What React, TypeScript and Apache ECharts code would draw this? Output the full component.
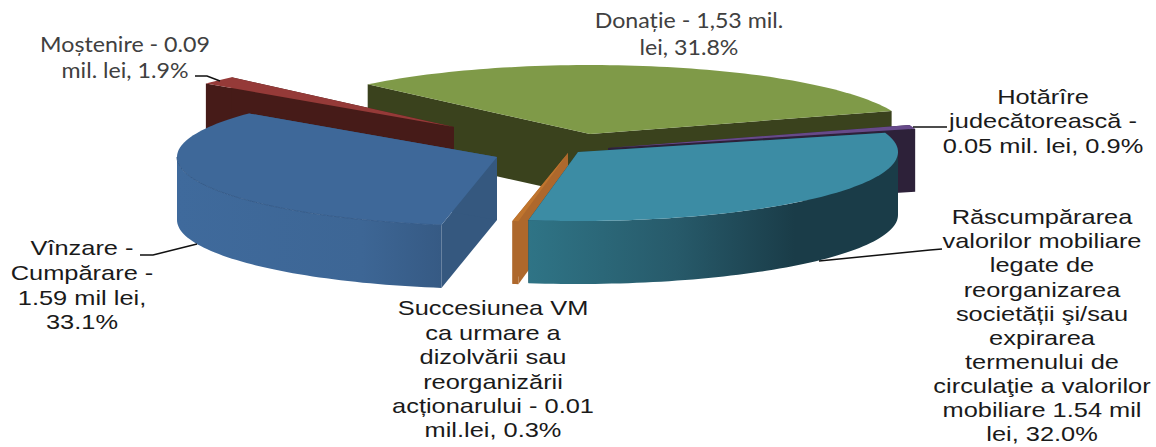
import React, { useEffect, useRef } from "react";
import * as echarts from "echarts";

const categories = [
  "Donație",
  "Hotărîre judecătorească",
  "Răscumpărarea valorilor mobiliare",
  "Succesiunea VM",
  "Vînzare - Cumpărare",
  "Moștenire",
];
const shares = [31.8, 0.9, 32.0, 0.3, 33.1, 1.9];

const START_ANGLE = 226;
const RX = 320;
const RY = 69;
const DEPTH = 63;
const apexX = [590, 608, 578, 568, 497, 454];
const apexY = [134, 148, 152, 153, 157, 127];
const drawOrder = [0, 5, 1, 4, 3, 2];

const topColors = ["#7f9a48", "#674a8a", "#3c8ca4", "#c0752e", "#3e6899", "#953a38"];
const faceColors = ["#3a421d", "#2d2139", "#1a3c48", "#ae682c", "#35587f", "#461b18"];
const seamColors = ["", "", "", "", "#365c8a", ""];
const wallStops: [number, string][][] = [
  [[0, "#3a421d"], [1, "#3a421d"]],
  [[0, "#2d2139"], [1, "#2d2139"]],
  [[0, "#2f7486"], [0.4, "#275a6a"], [0.72, "#1a3c48"], [1, "#1a3c48"]],
  [[0, "#ae682c"], [1, "#ae682c"]],
  [[0, "#3f6a9c"], [0.7, "#3d6695"], [1, "#365a84"]],
  [[0, "#461b18"], [1, "#461b18"]],
];

const labelTexts = [
  "Donație - 1,53 mil.\nlei, 31.8%",
  "Moștenire - 0.09\nmil. lei, 1.9%",
  "Hotărîre\njudecătorească -\n0.05 mil. lei, 0.9%",
  "Răscumpărarea\nvalorilor mobiliare\nlegate de\nreorganizarea\nsocietății şi/sau\nexpirarea\ntermenului de\ncirculaţie a valorilor\nmobiliare 1.54 mil\nlei, 32.0%",
  "Succesiunea VM\nca urmare a\ndizolvării sau\nreorganizării\nacționarului - 0.01\nmil.lei, 0.3%",
  "Vînzare -\nCumpărare -\n1.59 mil lei,\n33.1%",
];
const labelX = [689, 125, 1043, 1042, 493, 82];
const labelY = [6, 31, 85, 205, 296, 236];
const labelLineHeight = [27, 26, 24.2, 24.1, 24.4, 24.6];
const labelFont = ["Lato", "Lato", "Liberation Sans", "Liberation Sans", "Liberation Sans", "Liberation Sans"];
const labelSize = [21, 21, 21, 21, 21, 21];
const labelScale = [1.105, 1.105, 1.21, 1.21, 1.21, 1.21];
const labelColor = ["#404040", "#404040", "#1a1a1a", "#1a1a1a", "#1a1a1a", "#1a1a1a"];

const leaderLines: number[][][] = [
  [[195, 76], [207, 76], [220, 81]],
  [[913, 127], [947, 127]],
  [[819, 261], [930, 250], [942, 249]],
  [[140, 255], [153, 255], [197, 244]],
];

const rim = (cx: number, cy: number, deg: number, dy = 0): number[] => {
  const t = (deg * Math.PI) / 180;
  return [cx + RX * Math.cos(t), cy + RY * Math.sin(t) + dy];
};

const arcPoints = (cx: number, cy: number, a: number, b: number, dy = 0) => {
  const n = Math.max(2, Math.ceil((b - a) / 1.5));
  const pts: number[][] = [];
  for (let i = 0; i <= n; i++) pts.push(rim(cx, cy, a + ((b - a) * i) / n, dy));
  return pts;
};

const renderSlice = (params: any, api: any) => {
  const i = params.dataIndex;
  const total = shares.reduce((s, v) => s + v, 0);
  const before = shares.slice(0, i).reduce((s, v) => s + v, 0);
  const a = START_ANGLE + (before / total) * 360;
  const b = a + (api.value(0) / total) * 360;
  const cx = apexX[i];
  const cy = apexY[i];
  const z = drawOrder.indexOf(i) * 10;
  const children: any[] = [];

  [a, b].forEach((deg) => {
    const r = rim(cx, cy, deg);
    children.push({
      type: "polygon",
      z2: z,
      shape: { points: [[cx, cy], r, [r[0], r[1] + DEPTH], [cx, cy + DEPTH]] },
      style: { fill: faceColors[i] },
    });
  });

  [[0, 180], [360, 540]].forEach(([lo, hi]) => {
    const p = Math.max(a, lo);
    const q = Math.min(b, hi);
    if (q <= p) return;
    const upper = arcPoints(cx, cy, p, q);
    const lower = arcPoints(cx, cy, p, q, DEPTH).reverse();
    const stops = wallStops[i].map(([offset, color]) => ({ offset, color }));
    children.push({
      type: "polygon",
      z2: z + 1,
      shape: { points: upper.concat(lower) },
      style: { fill: new echarts.graphic.LinearGradient(0, 0, 1, 0, stops) },
    });
    if (seamColors[i]) {
      children.push({
        type: "polyline",
        z2: z + 3,
        shape: { points: upper },
        style: { stroke: seamColors[i], lineWidth: 1, fill: "none" },
      });
    }
  });

  children.push({
    type: "polygon",
    z2: z + 2,
    shape: { points: [[cx, cy], ...arcPoints(cx, cy, a, b)] },
    style: { fill: topColors[i] },
  });
  return { type: "group", children };
};

export default function App() {
  const ref = useRef<HTMLDivElement>(null);
  useEffect(() => {
    document.body.style.margin = "0";
    const chart = echarts.init(ref.current!, undefined, { renderer: "svg" });
    chart.setOption({
      animation: false,
      backgroundColor: "#ffffff",
      series: [
        {
          type: "custom",
          name: "Structura",
          coordinateSystem: "none",
          silent: true,
          renderItem: renderSlice,
          data: categories.map((name, i) => ({ name, value: [shares[i]] })),
        },
      ],
      graphic: {
        elements: [
          ...leaderLines.map((points) => ({
            type: "polyline",
            z: 20,
            shape: { points },
            style: { stroke: "#111111", lineWidth: 1.5, fill: "none" },
          })),
          ...labelTexts.map((text, i) => ({
            type: "text",
            z: 20,
            x: labelX[i],
            y: labelY[i],
            scaleX: labelScale[i],
            style: {
              text,
              fill: labelColor[i],
              fontFamily: labelFont[i],
              fontSize: labelSize[i],
              lineHeight: labelLineHeight[i],
              textAlign: "center",
              textVerticalAlign: "top",
            },
          })),
        ],
      },
    });
    return () => chart.dispose();
  }, []);
  return <div ref={ref} style={{ width: 1156, height: 447 }} />;
}
